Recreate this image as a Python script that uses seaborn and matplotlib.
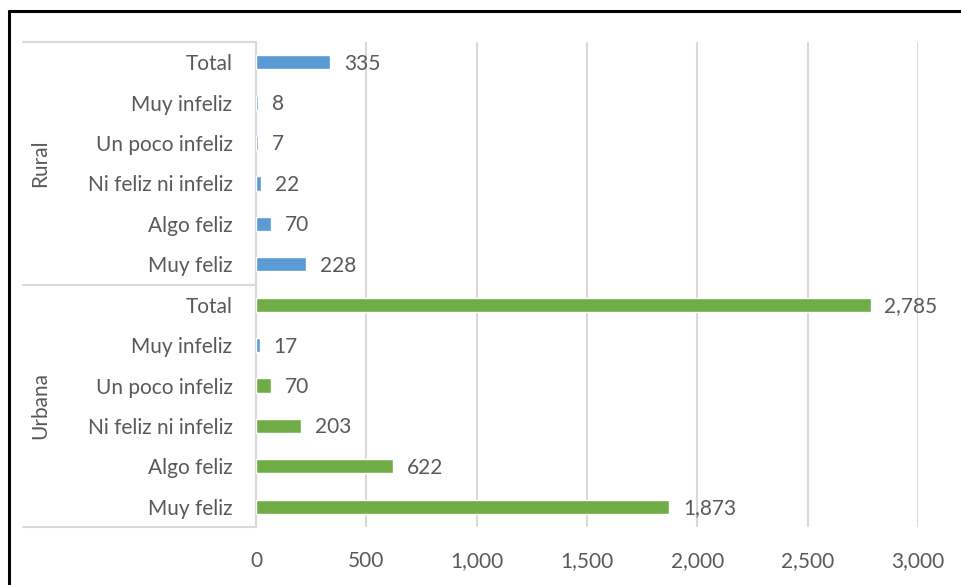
import matplotlib
matplotlib.use("Agg")
import matplotlib.pyplot as plt
import seaborn as sns
import pandas as pd

# Datos
grupos = ["Rural", "Urbana"]
categorias = ["Total", "Muy infeliz", "Un poco infeliz", "Ni feliz ni infeliz", "Algo feliz", "Muy feliz"]
valores_rural = [335, 8, 7, 22, 70, 228]
valores_urbana = [2785, 17, 70, 203, 622, 1873]
ticks_x = [0, 500, 1000, 1500, 2000, 2500, 3000]

AZUL = "#5B9BD5"
VERDE = "#70AD47"
TEXTO = "#595959"
GRIS = "#D9D9D9"
FS = 15

filas = []
for grupo, valores in zip(grupos, [valores_rural, valores_urbana]):
    for cat, v in zip(categorias, valores):
        serie = "rural" if grupo == "Rural" else "urbana"
        # en el original la barra "Muy infeliz" urbana sale en azul
        if grupo == "Urbana" and cat == "Muy infeliz":
            serie = "rural"
        filas.append({"fila": f"{grupo}|{cat}", "categoria": cat, "valor": v, "serie": serie})
df = pd.DataFrame(filas)

sns.set_theme(style="white")
plt.rcParams["font.family"] = ["Lato", "DejaVu Sans"]

fig = plt.figure(figsize=(9.61, 5.85), dpi=100)
ax = fig.add_axes([256 / 961, 1 - 527 / 585, 662 / 961, 485 / 585])

sns.barplot(data=df, x="valor", y="fila", hue="serie", dodge=False,
            palette={"rural": AZUL, "urbana": VERDE}, width=0.35, saturation=1,
            orient="h", ax=ax, legend=False, zorder=3)

ax.set_xlim(0, 3000)
ax.set_ylim(len(df) - 0.5, -0.5)
ax.set_xticks(ticks_x)
ax.set_xticklabels([f"{t:,}" for t in ticks_x], fontsize=FS, color=TEXTO)
ax.set_yticks(range(len(df)))
ax.set_yticklabels(df["categoria"], fontsize=FS, color=TEXTO)
ax.tick_params(axis="x", length=0, pad=17)
ax.tick_params(axis="y", length=0, pad=17)
ax.set_xlabel("")
ax.set_ylabel("")
ax.xaxis.grid(True, color=GRIS, linewidth=1.5, zorder=0)
ax.set_axisbelow(True)
for lado in ["top", "right", "bottom"]:
    ax.spines[lado].set_visible(False)
ax.spines["left"].set_color(GRIS)
ax.spines["left"].set_linewidth(1.5)

# etiquetas de valores
for i, v in enumerate(df["valor"]):
    ax.annotate(f"{v:,}", xy=(v, i), xytext=(10, -1), textcoords="offset points",
                va="center", ha="left", fontsize=FS, color=TEXTO, zorder=4)

# caja de categorías a la izquierda
trans = ax.get_yaxis_transform()
x0 = (23 - 256) / 662
for y in [-0.5, 5.5, 11.5]:
    ax.plot([x0, 0], [y, y], color=GRIS, linewidth=1.5, transform=trans, clip_on=False)
for k, grupo in enumerate(grupos):
    ax.text((40 - 256) / 662, 2.5 + 6 * k, grupo, rotation=90, ha="center", va="center",
            fontsize=FS, color=TEXTO, transform=trans)

# borde negro del recorte
fig.add_artist(plt.Line2D([9 / 961, 9 / 961], [0, 1 - 11 / 585], color="black", linewidth=2.2))
fig.add_artist(plt.Line2D([9 / 961, 1], [1 - 11 / 585, 1 - 11 / 585], color="black", linewidth=2.2))

fig.savefig("out.png", dpi=100)
